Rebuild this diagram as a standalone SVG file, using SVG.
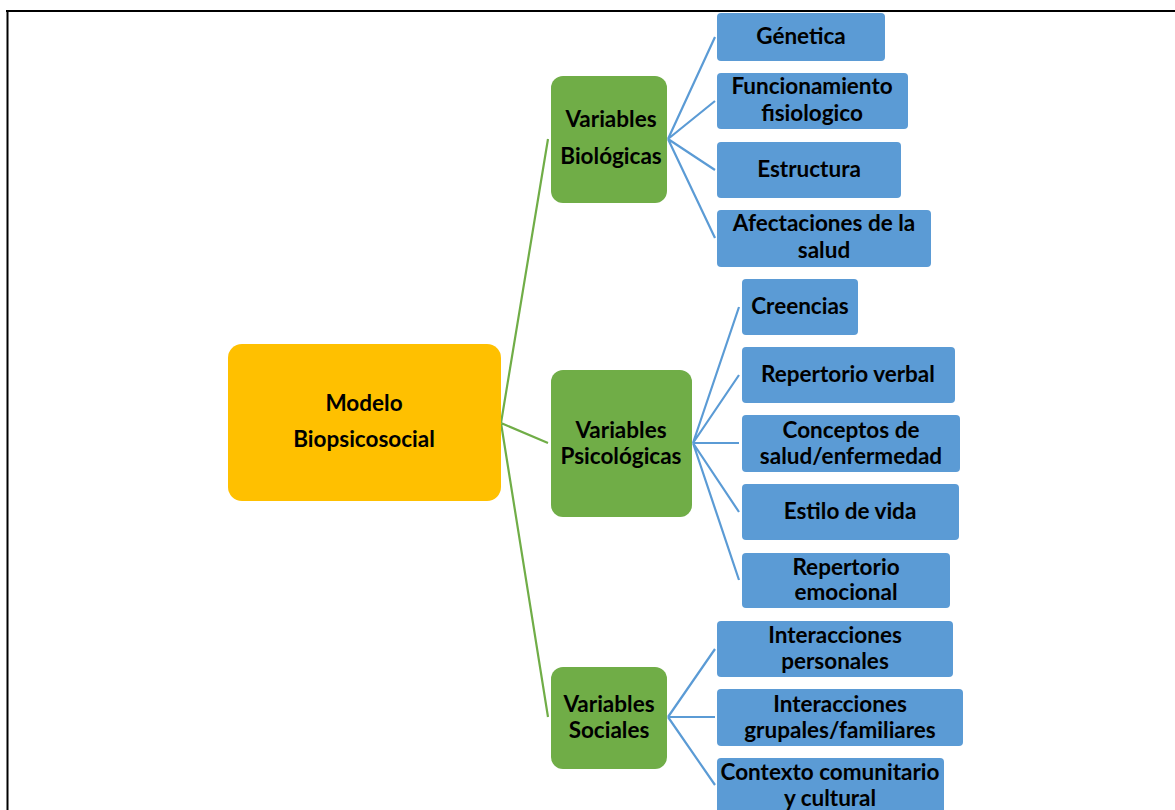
<svg xmlns="http://www.w3.org/2000/svg" width="1175" height="810" viewBox="0 0 1175 810">
<style>
text{font-family:Lato,"Noto Sans",sans-serif;font-weight:bold;font-size:22.5px;fill:#000;text-anchor:middle;dominant-baseline:central}
.leaf{fill:#5B9BD5}
.cat{fill:#70AD47}
.root{fill:#FFC000}
.g{stroke:#70AD47;stroke-width:2.2;fill:none}
.b{stroke:#5B9BD5;stroke-width:2.2;fill:none}
</style>
<rect width="1175" height="810" fill="#fff"/>
<path d="M6 11 H1175 M7.5 10 V810" stroke="#000" stroke-width="2" fill="none"/>
<g id="connectors">
<path class="g" d="M501 423 L548 139 M501 423 L548 443 M501 423 L548 717"/>
<path class="b" d="M668 139 L715 37 M668 139 L715 101 M668 139 L715 170 M668 139 L715 238"/>
<path class="b" d="M693 443 L739 307 M693 443 L739 375 M693 443 L739 443 M693 443 L739 512 M693 443 L739 580"/>
<path class="b" d="M668 717 L715 649 M668 717 L715 717 M668 717 L715 785"/>
</g>
<g id="root"><rect class="root" x="228" y="344" width="273" height="157" rx="14"/><text x="364" y="402">Modelo</text><text x="364" y="438">Biopsicosocial</text></g>
<g id="bio"><rect class="cat" x="551" y="76" width="116" height="127" rx="12"/><text x="611" y="118">Variables</text><text x="611" y="155">Biológicas</text></g>
<g id="psi"><rect class="cat" x="551" y="370" width="141" height="147" rx="12"/><text x="621" y="429">Variables</text><text x="621" y="455">Psicológicas</text></g>
<g id="soc"><rect class="cat" x="551" y="667" width="116" height="102" rx="12"/><text x="609" y="703">Variables</text><text x="609" y="729">Sociales</text></g>
<g id="genetica"><rect class="leaf" x="717" y="13" width="168" height="48" rx="4"/><text x="801" y="35">Génetica</text></g>
<g id="funcionamiento"><rect class="leaf" x="717" y="73" width="191" height="56" rx="4"/><text x="812" y="85">Funcionamiento</text><text x="812" y="112">fisiologico</text></g>
<g id="estructura"><rect class="leaf" x="717" y="142" width="184" height="56" rx="4"/><text x="809" y="168">Estructura</text></g>
<g id="afectaciones"><rect class="leaf" x="717" y="210" width="214" height="57" rx="4"/><text x="824" y="222">Afectaciones de la</text><text x="824" y="249">salud</text></g>
<g id="creencias"><rect class="leaf" x="742" y="279" width="116" height="56" rx="4"/><text x="800" y="305">Creencias</text></g>
<g id="rep-verbal"><rect class="leaf" x="742" y="347" width="213" height="56" rx="4"/><text x="848" y="373">Repertorio verbal</text></g>
<g id="conceptos"><rect class="leaf" x="742" y="415" width="218" height="57" rx="4"/><text x="851" y="429">Conceptos de</text><text x="851" y="455">salud/enfermedad</text></g>
<g id="estilo"><rect class="leaf" x="742" y="484" width="217" height="56" rx="4"/><text x="850" y="510">Estilo de vida</text></g>
<g id="rep-emocional"><rect class="leaf" x="742" y="553" width="208" height="55" rx="4"/><text x="846" y="566">Repertorio</text><text x="846" y="591">emocional</text></g>
<g id="int-personales"><rect class="leaf" x="717" y="621" width="236" height="56" rx="4"/><text x="835" y="634">Interacciones</text><text x="835" y="660">personales</text></g>
<g id="int-grupales"><rect class="leaf" x="717" y="689" width="246" height="57" rx="4"/><text x="840" y="703">Interacciones</text><text x="840" y="729">grupales/familiares</text></g>
<g id="contexto"><rect class="leaf" x="717" y="758" width="227" height="60" rx="4"/><text x="830" y="771">Contexto comunitario</text><text x="830" y="797">y cultural</text></g>
</svg>
